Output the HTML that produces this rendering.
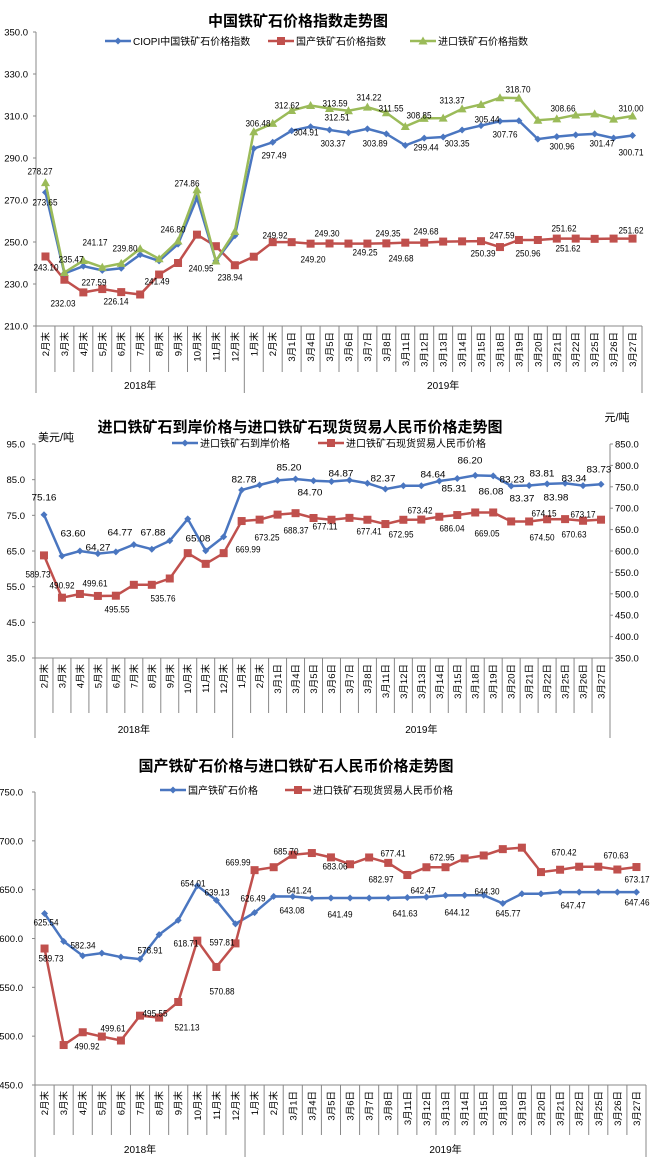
<!DOCTYPE html>
<html><head><meta charset="utf-8">
<style>
html,body{margin:0;padding:0;background:#fff;}
svg{display:block;}
text{font-family:"Liberation Sans","Noto Sans CJK SC",sans-serif;}
</style></head>
<body>
<svg id="s" width="650" height="1165" xmlns="http://www.w3.org/2000/svg"></svg>
<script>
var S=document.getElementById('s'),NS='http://www.w3.org/2000/svg',out='';
function T(x,y,t,o){o=o||{};out+='<text x="'+x+'" y="'+y+'" font-size="'+(o.fs||9.5)+'" fill="'+(o.c||'#000')+'" text-anchor="'+(o.a||'middle')+'"'+(o.w?' font-weight="bold"':'')+(o.tr?' transform="'+o.tr+'"':'')+(o.sx?' textLength="'+o.sx+'" lengthAdjust="spacingAndGlyphs"':'')+'>'+t+'</text>';}
function L(x1,y1,x2,y2,c,w){out+='<line x1="'+x1+'" y1="'+y1+'" x2="'+x2+'" y2="'+y2+'" stroke="'+(c||'#888')+'" stroke-width="'+(w||1)+'"/>';}
var cats=["2月末","3月末","4月末","5月末","6月末","7月末","8月末","9月末","10月末","11月末","12月末","1月末","2月末","3月1日","3月4日","3月5日","3月6日","3月7日","3月8日","3月11日","3月12日","3月13日","3月14日","3月15日","3月18日","3月19日","3月20日","3月21日","3月22日","3月25日","3月26日","3月27日"];
var COL={b:'#4A76C0',r:'#C0504D',g:'#9BBB59'};
function marker(k,x,y){
 if(k=='b')out+='<path d="M'+x+' '+(y-3.5)+'L'+(x+3.5)+' '+y+'L'+x+' '+(y+3.5)+'L'+(x-3.5)+' '+y+'Z" fill="'+COL.b+'"/>';
 if(k=='r')out+='<rect x="'+(x-4)+'" y="'+(y-4)+'" width="8" height="8" fill="'+COL.r+'"/>';
 if(k=='g')out+='<path d="M'+x+' '+(y-4.5)+'L'+(x+4.5)+' '+(y+3.5)+'L'+(x-4.5)+' '+(y+3.5)+'Z" fill="'+COL.g+'"/>';
}
function chart(c){
 var n=32,cw=(c.x1-c.x0)/n;
 function px(i){return c.x0+cw*(i+0.5);}
 function py(v,ax){ax=ax||c.yl;return c.yb-(v-ax[0])/(ax[1]-ax[0])*(c.yb-c.yt);}
 L(c.x0,c.yt,c.x0,c.yb);
 L(c.x0,c.yb,c.x1,c.yb);
 for(var v=c.yl[0];v<=c.yl[1]+0.01;v+=c.yl[2]){var y=py(v);L(c.x0-3,y,c.x0,y);T(c.lx,y+3.5,v.toFixed(1),{a:'end',fs:9.5});}
 if(c.yr){L(c.x1,c.yt,c.x1,c.yb);for(var v=c.yr[0];v<=c.yr[1]+0.01;v+=c.yr[2]){var y=py(v,c.yr);L(c.x1,y,c.x1+3,y);T(c.x1+5,y+3.5,v.toFixed(1),{a:'start',fs:9.5});}}
 for(var i=0;i<=n;i++){var x=c.x0+cw*i;var full=(i==0||i==11||i==n);L(x,c.yb,x,full?c.ob:c.sb);}
 for(var i=0;i<n;i++){var x=px(i)+3.5;T(x,c.yb+6,cats[i],{a:'end',fs:9.5,tr:'rotate(-90 '+x+' '+(c.yb+6)+')'});}
 T((c.x0+c.x0+cw*11)/2,c.yy,'2018年',{fs:10});
 T((c.x0+cw*11+c.x1)/2,c.yy,'2019年',{fs:10});
 c.series.forEach(function(s){
  var pts=s.d.map(function(v,i){return px(i)+','+py(v,s.ax==2?c.yr:c.yl);});
  out+='<polyline points="'+pts.join(' ')+'" fill="none" stroke="'+COL[s.k]+'" stroke-width="2.5"/>';
  s.d.forEach(function(v,i){marker(s.k,px(i),py(v,s.ax==2?c.yr:c.yl));});
 });
 c.labels.forEach(function(l){T(l[0],l[1]+3.5,l[2],{fs:9.5,sx:25});});
 T(c.tx,c.ty,c.title,{fs:15,w:1});
 c.legend.forEach(function(g){L(g[0],g[1],g[0]+26,g[1],COL[g[2]],2.5);marker(g[2],g[0]+13,g[1]);T(g[0]+28,g[1]+4,g[3],{a:'start',fs:10});});
}
chart({x0:36,x1:642,yt:32,yb:326,yl:[210,350,20],lx:28,sb:372,ob:393,yy:389,
 title:'中国铁矿石价格指数走势图',tx:298,ty:26,
 legend:[[105,41,'b','CIOPI中国铁矿石价格指数'],[268,41,'r','国产铁矿石价格指数'],[410,41,'g','进口铁矿石价格指数']],
 series:[
 {k:'r',d:[243.1,232.03,226,227.59,226.14,225,234.5,240,253.5,248,238.94,243,249.92,249.92,249.2,249.3,249.25,249.25,249.35,249.68,249.68,250.2,250.3,250.39,247.59,250.96,250.96,251.62,251.62,251.5,251.62,251.62]},
 {k:'b',d:[273.65,235,238.5,236.5,237.5,244,241,249,271,241,253,294.5,297.49,303,304.91,303.37,302,303.89,301.5,296,299.44,300,303.35,305.44,307.5,307.76,299,300.2,301,301.47,299.5,300.71]},
 {k:'g',d:[278.27,235.47,241.17,238,239.8,246.8,242,250.5,274.86,240.95,255,302.5,306.48,312.62,315,313.59,312.51,314.22,311.55,305,308.85,309,313.37,315.5,318.7,318.5,308,308.66,310.5,311,308.5,310]}],
 labels:[[40,171,'278.27'],[45,202,'273.65'],[46,267,'243.10'],[71,259,'235.47'],[63,303,'232.03'],[95,242,'241.17'],[94,282,'227.59'],[125,248,'239.80'],[116,301,'226.14'],[173,229,'246.80'],[157,281,'241.49'],[187,183,'274.86'],[201,268,'240.95'],[230,277,'238.94'],[258,123,'306.48'],[274,155,'297.49'],[287,105,'312.62'],[306,132,'304.91'],[275,235,'249.92'],[335,103,'313.59'],[337,117,'312.51'],[333,143,'303.37'],[327,233,'249.30'],[313,259,'249.20'],[369,97,'314.22'],[375,143,'303.89'],[391,108,'311.55'],[388,233,'249.35'],[365,252,'249.25'],[401,258,'249.68'],[419,115,'308.85'],[426,147,'299.44'],[457,143,'303.35'],[426,231,'249.68'],[452,100,'313.37'],[487,119,'305.44'],[505,134,'307.76'],[483,253,'250.39'],[502,235,'247.59'],[518,89,'318.70'],[528,253,'250.96'],[563,108,'308.66'],[562,146,'300.96'],[564,228,'251.62'],[568,248,'251.62'],[602,143,'301.47'],[631,108,'310.00'],[631,152,'300.71'],[631,230,'251.62']]
});
chart({x0:35,x1:610,yt:444,yb:658,yl:[35,95,10],yr:[350,850,50],lx:25,sb:713,ob:738,yy:733,
 title:'进口铁矿石到岸价格与进口铁矿石现货贸易人民币价格走势图',tx:300,ty:432,
 legend:[[172,443,'b','进口铁矿石到岸价格'],[318,443,'r','进口铁矿石现货贸易人民币价格']],
 series:[
 {k:'b',d:[75.16,63.6,65,64.27,64.77,66.8,65.5,67.88,74,65.08,69,82.1,83.5,84.8,85.2,84.7,84.5,84.87,84.0,82.37,83.3,83.3,84.64,85.31,86.2,86.08,83.23,83.37,83.81,83.98,83.34,83.73]},
 {k:'r',ax:2,d:[589.73,490.92,499.61,495,495.55,521,521,535.76,595,570,595,669.99,673.25,685,688.37,677.11,673,677.41,673,663,672.95,673.42,680,684,690,690,669.05,669,674.15,674.5,670.63,673.17]}],
 labels:[[44,497,'75.16'],[73,533,'63.60'],[98,547,'64.27'],[120,532,'64.77'],[153,532,'67.88'],[198,538,'65.08'],[244,479,'82.78'],[289,467,'85.20'],[310,492,'84.70'],[341,473,'84.87'],[383,478,'82.37'],[433,474,'84.64'],[454,488,'85.31'],[470,460,'86.20'],[491,491,'86.08'],[512,479,'83.23'],[522,498,'83.37'],[542,473,'83.81'],[556,497,'83.98'],[574,478,'83.34'],[599,469,'83.73'],[38,574,'589.73'],[62,585,'490.92'],[95,583,'499.61'],[117,609,'495.55'],[163,598,'535.76'],[248,549,'669.99'],[267,537,'673.25'],[296,530,'688.37'],[325,526,'677.11'],[369,531,'677.41'],[401,534,'672.95'],[420,510,'673.42'],[452,528,'686.04'],[487,533,'669.05'],[544,513,'674.15'],[542,537,'674.50'],[574,534,'670.63'],[583,514,'673.17']]
});
T(56,441,'美元/吨',{fs:11});T(617,421,'元/吨',{fs:11});
chart({x0:35,x1:646,yt:792,yb:1085,yl:[450,750,50],lx:23,sb:1135,ob:1157,yy:1153,
 title:'国产铁矿石价格与进口铁矿石人民币价格走势图',tx:296,ty:771,
 legend:[[160,790,'b','国产铁矿石价格'],[285,790,'r','进口铁矿石现货贸易人民币价格']],
 series:[
 {k:'b',d:[625.54,597,582.34,585,581,578.91,604,618.71,654.01,639.13,615,626.49,643.08,643,641.24,641.49,641.5,641.5,641.63,642,642.47,644.12,644.3,644.3,636,645.77,645.8,647.47,647.47,647.47,647.46,647.46]},
 {k:'r',d:[589.73,490.92,504,499.61,495.55,521,519,535,597.81,570.88,595,669.99,673,685.7,687.5,683.06,676,682.97,677.41,665,672.95,673,682,685,691.5,693,668,670.42,673.5,673.5,670.63,673.17]}],
 labels:[[46,922,'625.54'],[51,958,'589.73'],[83,945,'582.34'],[150,950,'578.91'],[193,883,'654.01'],[217,892,'639.13'],[253,898,'626.49'],[299,890,'641.24'],[292,910,'643.08'],[340,914,'641.49'],[405,913,'641.63'],[423,890,'642.47'],[457,912,'644.12'],[487,891,'644.30'],[508,913,'645.77'],[573,905,'647.47'],[637,902,'647.46'],[238,862,'669.99'],[286,851,'685.70'],[335,866,'683.06'],[393,853,'677.41'],[381,879,'682.97'],[442,857,'672.95'],[564,852,'670.42'],[616,855,'670.63'],[637,879,'673.17'],[186,943,'618.71'],[222,942,'597.81'],[222,991,'570.88'],[155,1013,'495.55'],[113,1028,'499.61'],[187,1027,'521.13'],[87,1046,'490.92']]
});
S.innerHTML=out;
</script>
</body></html>
